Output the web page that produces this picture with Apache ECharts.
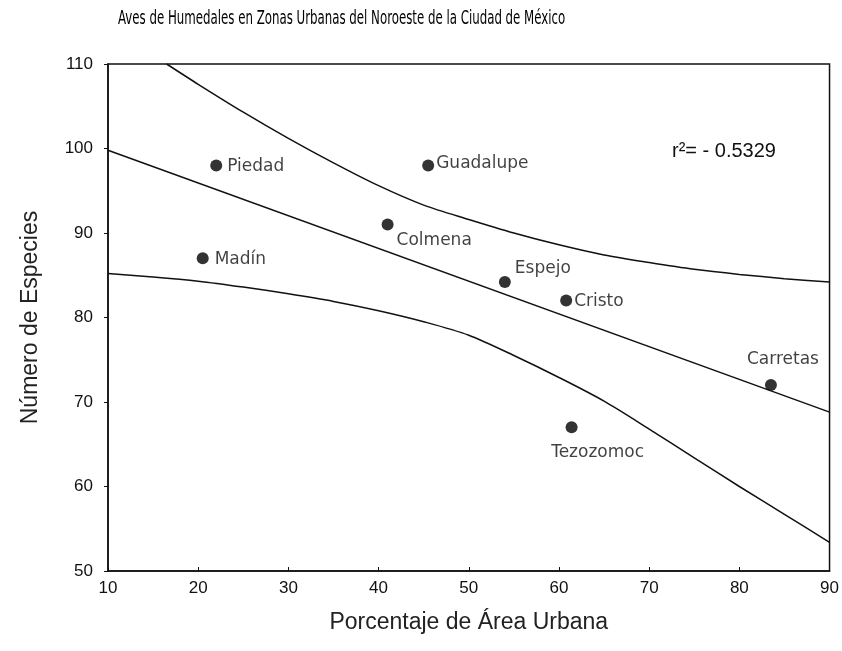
<!DOCTYPE html>
<html>
<head>
<meta charset="utf-8">
<script src="https://cdn.jsdelivr.net/npm/echarts@6/dist/echarts.min.js"></script>
<style>
  html, body { margin: 0; padding: 0; background: #fff; }
  #chart { width: 842px; height: 651px; }
</style>
</head>
<body>
<div id="chart"></div>
<script>
// humedales: nombre, % área urbana, número de especies
const humedales = ['Piedad', 'Guadalupe', 'Colmena', 'Madín', 'Espejo', 'Cristo', 'Carretas', 'Tezozomoc'];
const areaUrbana = [22, 45.5, 41, 20.5, 54, 60.8, 83.5, 61.4];
const especies = [98, 98, 91, 87, 84.2, 82, 72, 67];

// recta de regresión
const rectaX = [10, 90];
const rectaY = [99.8, 68.8];

// banda superior e inferior
const supX = [16.5, 20, 25, 30, 35, 40, 45, 50, 55, 60, 65, 70, 75, 80, 85, 90];
const supY = [110, 107.6, 104.3, 101.2, 98.3, 95.6, 93.3, 91.6, 90.0, 88.6, 87.4, 86.5, 85.7, 85.1, 84.6, 84.2];
const infX = [10, 15, 20, 25, 30, 35, 40, 45, 50, 55, 60, 65, 70, 75, 80, 85, 90];
const infY = [85.2, 84.8, 84.3, 83.6, 82.8, 81.9, 80.8, 79.5, 77.9, 75.5, 72.9, 70.1, 66.8, 63.4, 60.0, 56.7, 53.4];

const xTicks = [10, 20, 30, 40, 50, 60, 70, 80, 90];
const yTicks = [50, 60, 70, 80, 90, 100, 110];

// posición de cada etiqueta
const posEtiqueta = {
  'Piedad': { position: 'right', offset: [0, 1] },
  'Guadalupe': { position: 'right', offset: [-3, -2] },
  'Colmena': { position: 'right', offset: [-2, 16] },
  'Madín': { position: 'right', offset: [1, 1] },
  'Espejo': { position: 'right', offset: [-1, -13] },
  'Cristo': { position: 'right', offset: [-3, 1] },
  'Carretas': { position: 'top', offset: [12, -6] },
  'Tezozomoc': { position: 'bottom', offset: [26, 6] }
};

const pares = (xs, ys) => xs.map((v, i) => [v, ys[i]]);

const myChart = echarts.init(document.getElementById('chart'));

const fuente = 'Liberation Sans, Arial, sans-serif';
const lineaNegra = { color: '#111', width: 1.5 };

const option = {
  backgroundColor: '#fff',
  animation: false,
  grid: {
    left: 108,
    top: 64,
    width: 724,
    height: 507,
    show: true,
    borderColor: '#111',
    borderWidth: 1.5
  },
  xAxis: {
    type: 'value',
    min: 10,
    max: 90,
    interval: 10,
    name: 'Porcentaje de Área Urbana',
    nameLocation: 'middle',
    nameGap: 40,
    nameTextStyle: { fontFamily: fuente, fontSize: 23, color: '#222' },
    axisLine: { lineStyle: { color: '#111', width: 1.5 } },
    axisTick: { inside: true, length: 4, lineStyle: { color: '#111' } },
    axisLabel: {
      fontFamily: fuente, fontSize: 17, color: '#111', margin: 9,
      formatter: v => xTicks.includes(v) ? String(v) : ''
    },
    splitLine: { show: false }
  },
  yAxis: {
    type: 'value',
    min: 50,
    max: 110,
    interval: 10,
    name: 'Número de Especies',
    nameLocation: 'middle',
    nameGap: 66,
    nameRotate: 90,
    nameTextStyle: { fontFamily: fuente, fontSize: 23, color: '#222' },
    axisLine: { lineStyle: { color: '#111', width: 1.5 } },
    axisTick: { inside: false, length: 4, lineStyle: { color: '#111' } },
    axisLabel: {
      fontFamily: fuente, fontSize: 17, color: '#111', margin: 15,
      formatter: v => yTicks.includes(v) ? String(v) : ''
    },
    splitLine: { show: false }
  },
  graphic: [
    {
      type: 'text',
      x: 118,
      y: 10,
      scaleX: 0.69,
      style: {
        text: 'Aves de Humedales en Zonas Urbanas del Noroeste de la Ciudad de México',
        fontFamily: 'DejaVu Sans Condensed, Liberation Sans Narrow, sans-serif',
        fontSize: 19,
        verticalAlign: 'top',
        fill: '#000'
      }
    },
    {
      type: 'text',
      left: 672,
      top: 141,
      style: {
        text: 'r²= - 0.5329',
        fontFamily: fuente,
        fontSize: 20,
        fill: '#111'
      }
    }
  ],
  series: [
    {
      name: 'recta',
      type: 'line',
      data: pares(rectaX, rectaY),
      showSymbol: false,
      lineStyle: lineaNegra,
      silent: true
    },
    {
      name: 'superior',
      type: 'line',
      data: pares(supX, supY),
      showSymbol: false,
      smooth: 0.3,
      lineStyle: lineaNegra,
      silent: true
    },
    {
      name: 'inferior',
      type: 'line',
      data: pares(infX, infY),
      showSymbol: false,
      smooth: 0.3,
      lineStyle: lineaNegra,
      silent: true
    },
    {
      name: 'humedales',
      type: 'scatter',
      symbolSize: 12,
      itemStyle: { color: '#000' },
      data: humedales.map((n, i) => ({
        name: n,
        value: [areaUrbana[i], especies[i]],
        label: Object.assign({
          show: true,
          formatter: '{b}',
          fontFamily: 'DejaVu Sans, sans-serif',
          fontSize: 17,
          color: '#111'
        }, posEtiqueta[n])
      }))
    }
  ]
};

myChart.setOption(option);
window.addEventListener('resize', myChart.resize);
</script>
</body>
</html>
